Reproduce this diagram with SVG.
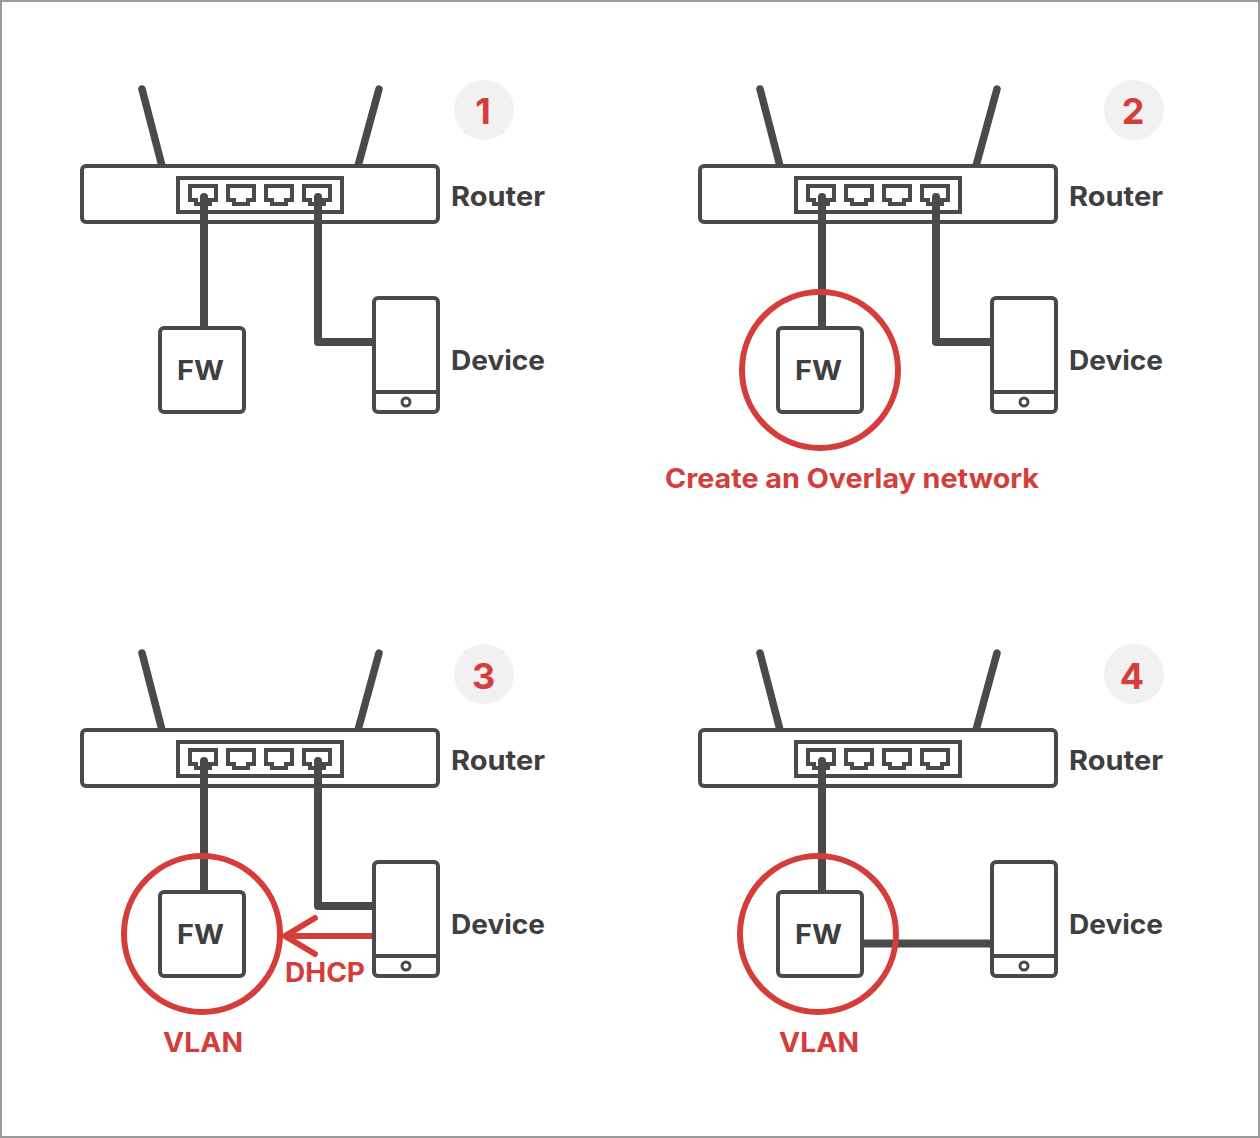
<svg xmlns="http://www.w3.org/2000/svg" width="1260" height="1138" viewBox="0 0 1260 1138">
<style>
text{font-family:"Inter","Liberation Sans",sans-serif;font-weight:700;font-size:27px}
.lbl{fill:#3f3f3f}
.red{fill:#d43d3a}
.num{fill:#d43d3a;font-size:36px;text-anchor:middle}
.fw{fill:#3f3f3f}
.o{fill:#fff;stroke:#4a4a4a;stroke-width:4;stroke-linejoin:round}
.m{fill:#fff;stroke:#4a4a4a;stroke-width:4;stroke-linejoin:miter}
.t{fill:none;stroke:#4a4a4a;stroke-width:8;stroke-linejoin:round;stroke-linecap:round}
.b{fill:none;stroke:#4a4a4a;stroke-width:8;stroke-linejoin:round}
.ant{fill:none;stroke:#4a4a4a;stroke-width:7.500;stroke-linecap:round}
.ring{fill:none;stroke:#d43d3a;stroke-width:6}
.ra{fill:none;stroke:#d43d3a;stroke-width:6;stroke-linecap:round;stroke-linejoin:miter}
.badge{fill:#f1f1f1}
</style>
<defs>
<g id="router-art">
<path class="ant" d="M142 89L162 166M379 89L358 166"/>
<rect class="o" x="82" y="166" width="356" height="56" rx="4"/>
<rect class="m" x="178" y="178" width="164" height="34"/>
<path class="m" d="M190 186H216V200H210V204H196V200H190Z"/>
<path class="m" d="M228 186H254V200H248V204H234V200H228Z"/>
<path class="m" d="M266 186H292V200H286V204H272V200H266Z"/>
<path class="m" d="M304 186H330V200H324V204H310V200H304Z"/>
</g>
<g id="device-art">
<rect class="o" x="374" y="298" width="64" height="114" rx="4"/>
<path class="o" d="M374 392H438"/>
<circle class="o" cx="406" cy="402" r="4" style="stroke-width:3"/>
</g>
</defs>
<rect x="1" y="1" width="1258" height="1136" fill="#fff" stroke="#9b9b9b" stroke-width="2"/>

<g id="router-1"><use href="#router-art"/><text class="lbl" x="451" y="206" textLength="94" lengthAdjust="spacingAndGlyphs">Router</text></g>
<g id="router-2"><use href="#router-art" x="618"/><text class="lbl" x="1069" y="206" textLength="94" lengthAdjust="spacingAndGlyphs">Router</text></g>
<g id="router-3"><use href="#router-art" y="564"/><text class="lbl" x="451" y="770" textLength="94" lengthAdjust="spacingAndGlyphs">Router</text></g>
<g id="router-4"><use href="#router-art" x="618" y="564"/><text class="lbl" x="1069" y="770" textLength="94" lengthAdjust="spacingAndGlyphs">Router</text></g>

<g id="connectors">
<path class="t" d="M204 197V326"/>
<path class="t" d="M318 197V342H372"/>
<path class="t" d="M822 197V326"/>
<path class="t" d="M936 197V342H990"/>
<path class="t" d="M204 761V890"/>
<path class="t" d="M318 761V906H372"/>
<path class="t" d="M822 761V890"/>
<path class="b" d="M860 943.500H994"/>
<path id="dhcp-arrow" class="ra" d="M372 936H286M315 918L285 936L315 954"/>
</g>

<g id="badge-1"><circle class="badge" cx="484" cy="110" r="30"/><text class="num" x="483" y="124">1</text></g>
<g id="fw-1"><rect class="o" x="160" y="328" width="84" height="84" rx="4"/><text class="fw" x="177" y="380" textLength="47" lengthAdjust="spacingAndGlyphs">FW</text></g>
<g id="device-1"><use href="#device-art"/><text class="lbl" x="451" y="370" textLength="94" lengthAdjust="spacingAndGlyphs">Device</text></g>

<g id="badge-2"><circle class="badge" cx="1134" cy="110" r="30"/><text class="num" x="1133" y="124">2</text></g>
<g id="fw-2"><rect class="o" x="778" y="328" width="84" height="84" rx="4"/><text class="fw" x="795" y="380" textLength="47" lengthAdjust="spacingAndGlyphs">FW</text></g>
<g id="device-2"><use href="#device-art" x="618"/><text class="lbl" x="1069" y="370" textLength="94" lengthAdjust="spacingAndGlyphs">Device</text></g>
<g id="overlay"><circle class="ring" cx="820" cy="370" r="78"/><text class="red" x="665" y="488" textLength="374" lengthAdjust="spacingAndGlyphs">Create an Overlay network</text></g>

<g id="badge-3"><circle class="badge" cx="484" cy="674" r="30"/><text class="num" x="483.500" y="689">3</text></g>
<g id="fw-3"><rect class="o" x="160" y="892" width="84" height="84" rx="4"/><text class="fw" x="177" y="944" textLength="47" lengthAdjust="spacingAndGlyphs">FW</text></g>
<g id="device-3"><use href="#device-art" y="564"/><text class="lbl" x="451" y="934" textLength="94" lengthAdjust="spacingAndGlyphs">Device</text></g>
<g id="vlan-3"><circle class="ring" cx="202" cy="934" r="78"/><text class="red" x="163" y="1052" textLength="80" lengthAdjust="spacingAndGlyphs">VLAN</text></g>
<text class="red" x="285" y="982" textLength="80" lengthAdjust="spacingAndGlyphs">DHCP</text>

<g id="badge-4"><circle class="badge" cx="1134" cy="674" r="30"/><text class="num" x="1132" y="689">4</text></g>
<g id="fw-4"><rect class="o" x="778" y="892" width="84" height="84" rx="4"/><text class="fw" x="795" y="944" textLength="47" lengthAdjust="spacingAndGlyphs">FW</text></g>
<g id="device-4"><use href="#device-art" x="618" y="564"/><text class="lbl" x="1069" y="934" textLength="94" lengthAdjust="spacingAndGlyphs">Device</text></g>
<g id="vlan-4"><circle class="ring" cx="818" cy="934" r="78"/><text class="red" x="779" y="1052" textLength="80" lengthAdjust="spacingAndGlyphs">VLAN</text></g>
</svg>
